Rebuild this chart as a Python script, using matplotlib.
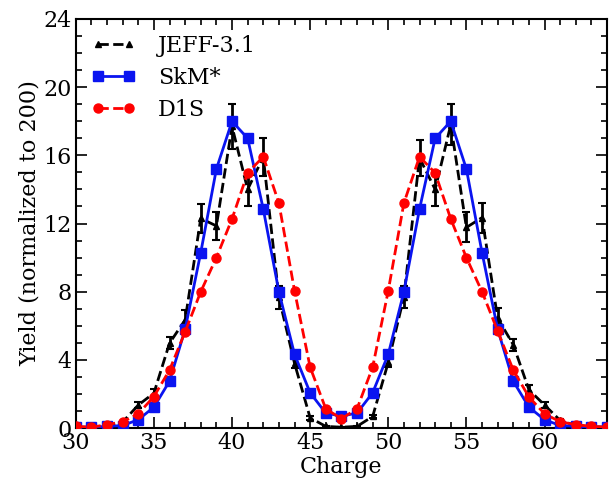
import matplotlib
matplotlib.use("Agg")
import matplotlib.pyplot as plt
from matplotlib.ticker import MultipleLocator

plt.rcParams['font.family'] = ['DejaVu Serif']
plt.rcParams['mathtext.fontset'] = 'dejavuserif'

charge = list(range(30, 65))

jeff = [0.05, 0.05, 0.1, 0.35, 1.35, 2.05, 4.98, 6.35, 12.3, 11.86,
        17.7, 14.0, 15.9, 7.67, 3.8, 0.6, 0.1, 0.05, 0.1, 0.68,
        3.86, 7.7, 15.85, 14.0, 17.8, 11.77, 12.35, 6.45, 4.89, 2.25,
        1.35, 0.45, 0.15, 0.08, 0.05]
jeff_err = [0.02, 0.02, 0.03, 0.08, 0.2, 0.25, 0.35, 0.55, 0.85, 0.84,
            1.3, 0.95, 1.1, 0.68, 0.3, 0.1, 0.03, 0.02, 0.03, 0.1,
            0.3, 0.63, 1.05, 0.97, 1.2, 0.88, 0.88, 0.6, 0.34, 0.25,
            0.2, 0.08, 0.04, 0.02, 0.02]

skm = [0.05, 0.05, 0.1, 0.15, 0.49, 1.23, 2.75, 5.8, 10.3, 15.2,
       18.0, 17.0, 12.85, 8.0, 4.33, 2.07, 0.88, 0.70, 0.88, 2.07,
       4.33, 8.0, 12.85, 17.0, 18.0, 15.2, 10.3, 5.8, 2.75, 1.23,
       0.49, 0.15, 0.1, 0.05, 0.05]

d1s = [0.1, 0.05, 0.2, 0.37, 0.84, 1.85, 3.4, 5.65, 8.0, 10.0,
       12.27, 14.97, 15.92, 13.2, 8.06, 3.57, 1.13, 0.55, 1.13, 3.57,
       8.06, 13.2, 15.92, 14.97, 12.27, 10.0, 8.0, 5.7, 3.4, 1.83,
       0.84, 0.37, 0.2, 0.1, 0.05]

fig = plt.figure(figsize=(6.11, 4.87), dpi=100)
ax = fig.add_axes([0.124, 0.121, 0.8695, 0.840])

eb = ax.errorbar(charge, jeff, yerr=jeff_err, color='black', ls='--', lw=2,
                 marker='^', ms=5, capsize=3, elinewidth=2, capthick=1.5,
                 zorder=2)
h_jeff = eb[0]
h_skm, = ax.plot(charge, skm, color='#0a14f0', ls='-', lw=2, marker='s',
                 ms=6.5, zorder=3)
h_d1s, = ax.plot(charge, d1s, color='#ff0000', ls='--', lw=2, marker='o',
                 ms=6.5, zorder=4)

ax.set_xlim(30, 64)
ax.set_ylim(0, 24)
ax.xaxis.set_major_locator(MultipleLocator(5))
ax.xaxis.set_minor_locator(MultipleLocator(1))
ax.yaxis.set_major_locator(MultipleLocator(4))
ax.yaxis.set_minor_locator(MultipleLocator(1))
ax.tick_params(which='both', direction='in', top=True, right=True,
               labelsize=16, width=1.2, pad=3)
ax.tick_params(which='major', length=8)
ax.tick_params(which='minor', length=4)
for s in ax.spines.values():
    s.set_linewidth(1.5)

ax.set_xlabel('Charge', fontsize=16, labelpad=1)
ax.set_ylabel('Yield (normalized to 200)', fontsize=16, labelpad=2)

ax.legend([h_jeff, h_skm, h_d1s], ['JEFF-3.1', 'SkM*', 'D1S'],
          loc='upper left', frameon=False, fontsize=16, numpoints=2,
          handlelength=2.0, borderaxespad=0.3, labelspacing=0.45,
          handletextpad=1.0)

fig.savefig('out.png', dpi=100)
